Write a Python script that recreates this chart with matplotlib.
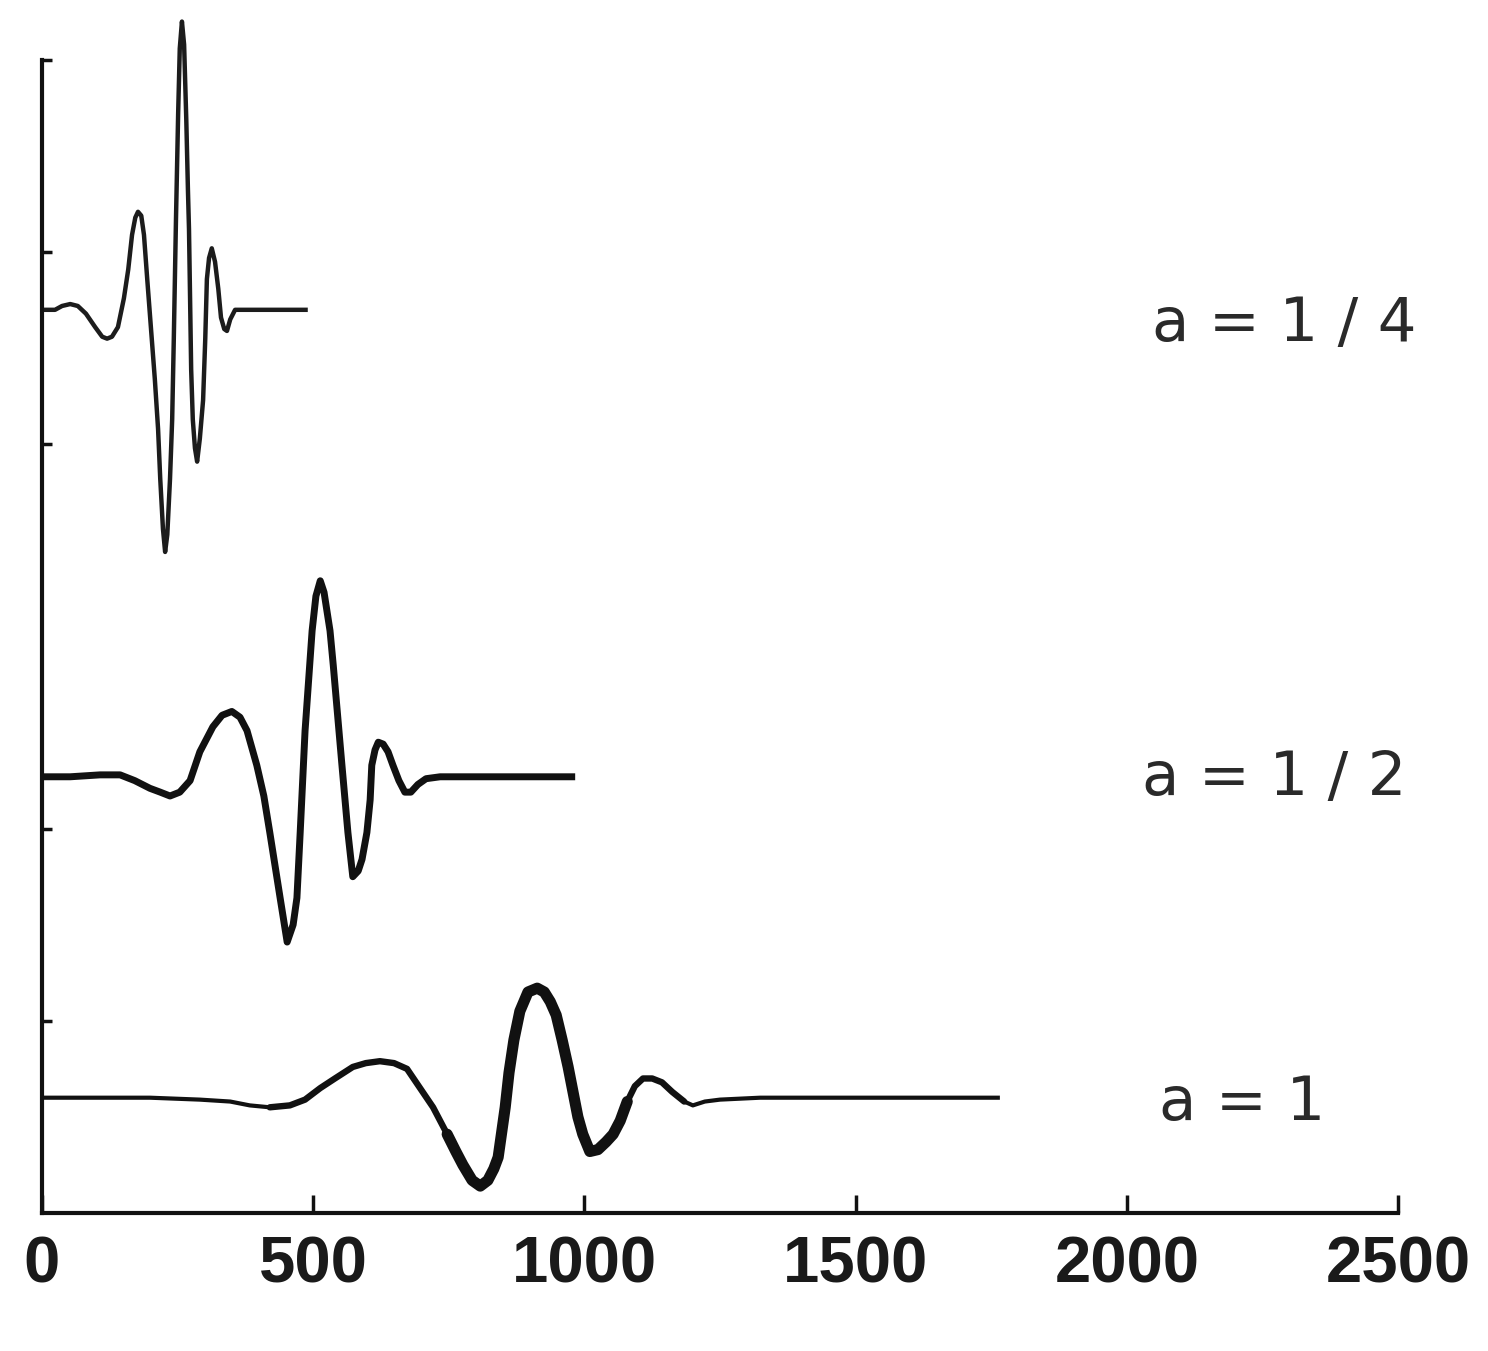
import matplotlib
matplotlib.use('Agg')
import matplotlib.pyplot as plt

# ---- data ----
x_quarter = [0, 24, 37, 52, 66, 81, 98, 111, 120, 129, 140, 151, 159, 166, 172, 177, 183, 188, 194, 201,
             208, 214, 218, 223, 227, 231, 236, 240, 243, 245, 247, 251, 254, 258, 262, 266, 269, 271, 273,
             275, 278, 282, 286, 291, 297, 301, 304, 308, 313, 319, 325, 330, 336, 341, 347, 356, 384, 490]
y_quarter = [4.70, 4.70, 4.72, 4.73, 4.72, 4.68, 4.61, 4.56, 4.55, 4.56, 4.61, 4.76, 4.91, 5.09, 5.18,
             5.21, 5.19, 5.09, 4.86, 4.60, 4.34, 4.08, 3.82, 3.56, 3.44, 3.53, 3.82, 4.13, 4.55, 4.86,
             5.17, 5.72, 6.06, 6.20, 6.08, 5.69, 5.33, 5.12, 4.76, 4.39, 4.13, 3.98, 3.91, 4.03, 4.23,
             4.55, 4.86, 4.97, 5.02, 4.95, 4.81, 4.66, 4.60, 4.59, 4.65, 4.70, 4.70, 4.70]

x_half = [0, 52, 107, 144, 171, 199, 218, 236, 254, 273, 291, 315, 332, 350, 365, 378, 396, 409, 420, 439,
          452, 463, 470, 476, 485, 498, 505, 513, 520, 531, 537, 553, 564, 573, 583, 590, 599, 605, 608, 614,
          620, 629, 638, 647, 658, 669, 680, 693, 708, 734, 983]
y_half = [2.27, 2.27, 2.28, 2.28, 2.25, 2.21, 2.19, 2.17, 2.19, 2.25, 2.40, 2.53, 2.59, 2.61, 2.58, 2.51,
          2.33, 2.17, 1.98, 1.64, 1.41, 1.50, 1.64, 1.98, 2.51, 3.03, 3.21, 3.29, 3.23, 3.03, 2.85, 2.33,
          1.98, 1.75, 1.78, 1.84, 1.98, 2.15, 2.33, 2.41, 2.45, 2.44, 2.40, 2.33, 2.25, 2.19, 2.19, 2.23,
          2.26, 2.27, 2.27]

x_one = [0, 107, 199, 291, 347, 383, 420, 457, 485, 513, 540, 573, 597, 623, 649, 673, 697, 721, 747, 763,
         776, 793, 808, 822, 833, 841, 848, 854, 861, 870, 881, 896, 913, 926, 937, 948, 959, 970, 979, 988,
         997, 1010, 1025, 1040, 1053, 1066, 1079, 1093, 1108, 1125, 1143, 1162, 1184, 1200, 1222, 1250,
         1324, 1766]
y_one = [0.60, 0.60, 0.60, 0.59, 0.58, 0.56, 0.55, 0.56, 0.59, 0.65, 0.70, 0.76, 0.78, 0.79, 0.78, 0.75,
         0.65, 0.55, 0.41, 0.32, 0.25, 0.17, 0.14, 0.17, 0.23, 0.29, 0.43, 0.55, 0.73, 0.90, 1.05, 1.15,
         1.17, 1.15, 1.10, 1.03, 0.90, 0.76, 0.63, 0.50, 0.41, 0.32, 0.33, 0.37, 0.41, 0.48, 0.58, 0.66,
         0.70, 0.70, 0.68, 0.63, 0.58, 0.56, 0.58, 0.59, 0.60, 0.60]

labels = ["a = 1 / 4", "a = 1 / 2", "a = 1"]
label_x = [2290, 2272, 2212]
label_y = [4.536, 2.177, 0.484]

xticks = [0, 500, 1000, 1500, 2000, 2500]
xticklabels = ["0", "500", "1000", "1500", "2000", "2500"]
yticks = [1, 2, 4, 5, 6]

# ---- figure ----
fig = plt.figure(figsize=(14.88, 13.51), dpi=100)
ax = fig.add_axes([42 / 1488, 138 / 1351, (1398 - 42) / 1488, (1213 - 60) / 1351])
ax.set_xlim(0, 2500)
ax.set_ylim(0, 6)

ink = '#111111'
style = dict(clip_on=False, solid_joinstyle='round', solid_capstyle='butt')
ax.plot(x_quarter, y_quarter, color='#1c1c1c', lw=3.2, **style)
ax.plot(x_half, y_half, color=ink, lw=5.0, **style)
ax.plot(x_one, y_one, color=ink, lw=3.0, **style)
# the a=1 trace thickens towards its centre
m0, m1 = x_one.index(420), x_one.index(1184)
ax.plot(x_one[m0:m1 + 1], y_one[m0:m1 + 1], color=ink, lw=4.6,
        clip_on=False, solid_joinstyle='round', solid_capstyle='round')
c0, c1 = x_one.index(747), x_one.index(1079)
ax.plot(x_one[c0:c1 + 1], y_one[c0:c1 + 1], color=ink, lw=8.0,
        clip_on=False, solid_joinstyle='round', solid_capstyle='round')

for t, tx, ty in zip(labels, label_x, label_y):
    ax.text(tx, ty, t, ha='center', va='baseline', fontsize=44,
            family='DejaVu Sans', color='#2a2a2a')

for s in ['top', 'right']:
    ax.spines[s].set_visible(False)
for s in ['left', 'bottom']:
    ax.spines[s].set_linewidth(3.0)
    ax.spines[s].set_color(ink)

ax.set_xticks(xticks)
ax.set_xticklabels(xticklabels, family='Liberation Sans', fontweight='bold')
ax.set_yticks(yticks)
ax.tick_params(axis='x', direction='in', length=13, width=2.5, pad=16,
               labelsize=47, color=ink, labelcolor='#1a1a1a')
ax.tick_params(axis='y', direction='in', length=7, width=2.5, labelleft=False, color=ink)

fig.savefig('out.png', dpi=100)
